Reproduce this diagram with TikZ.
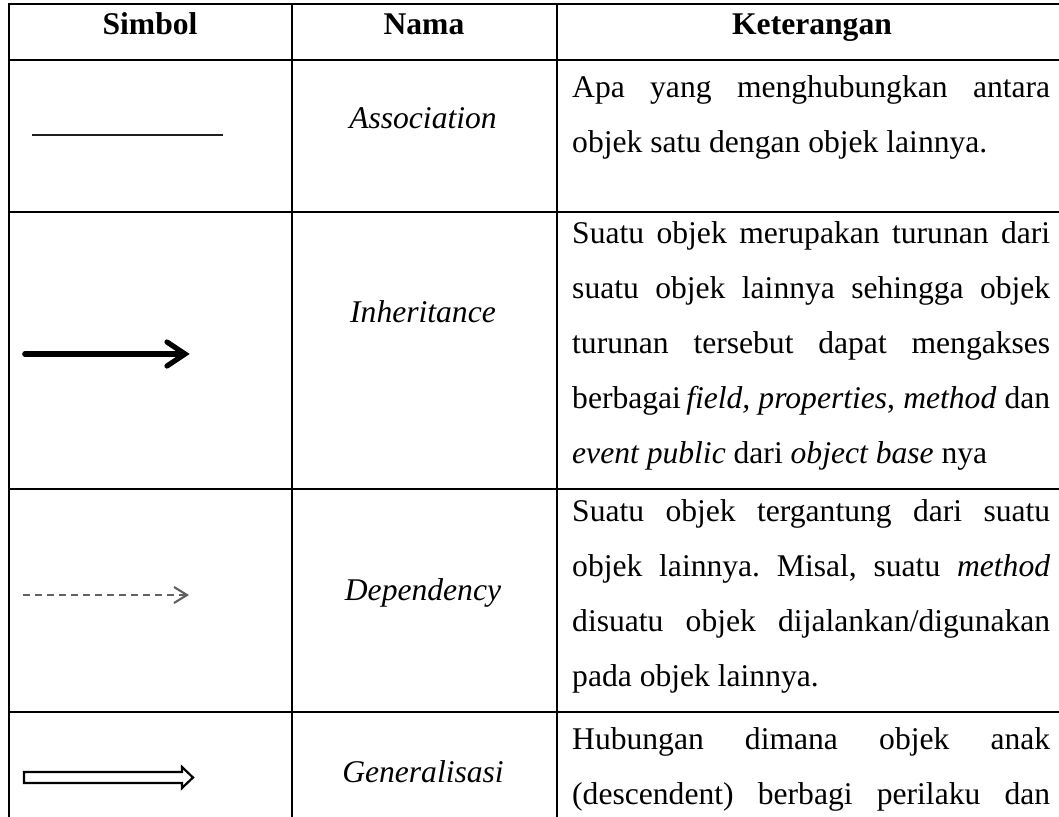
\documentclass[tikz,border=0pt]{standalone}
\usepackage{fontspec}
\setmainfont{Liberation Serif}
\newcommand\jline[1]{\makebox[478pt][s]{#1}}
\newcommand\ketsetup{\spaceskip=0pt\relax\xspaceskip=0pt\relax\frenchspacing}
\frenchspacing
\begin{document}
\begin{tikzpicture}[x=1pt,y=-1pt,
  grid/.style={line width=2.7pt,black},
  hdr/.style={anchor=base,inner sep=0pt,font=\fontsize{31.6}{55}\selectfont\bfseries},
  nama/.style={anchor=base,inner sep=0pt,font=\fontsize{31.6}{55}\selectfont\itshape},
  ket/.style={anchor=base west,inner sep=0pt,text width=478pt,font=\fontsize{31.6}{55}\selectfont},
  depcol/.style={color=black!62}
]
\useasboundingbox (0,0) rectangle (1059,816);
\clip (0,0) rectangle (1059,816);
\fill[white] (0,0) rectangle (1059,816);
% table grid
\draw[grid] (1080,4) -- (9,4) -- (9,840);
\draw[grid] (292,4) -- (292,840);
\draw[grid] (557,4) -- (557,840);
\foreach \yy in {60,212,489,712} \draw[grid] (9,\yy) -- (1080,\yy);
% header
\node[hdr] (hs) at (150,35) {Simbol};
\node[hdr] (hn) at (424,35) {Nama};
\node[hdr] (hk) at (812,35) {Keterangan};
% names
\node[nama] (n1) at (423,128) {Association};
\node[nama] (n2) at (423,322) {Inheritance};
\node[nama] (n3) at (423,600) {Dependency};
\node[nama] (n4) at (423,782) {Generalisasi};
% descriptions
\node[ket] (k1) at (572,97) {\ketsetup\jline{Apa yang menghubungkan antara}\\objek satu dengan objek lainnya.};
\node[ket] (k2) at (572,243) {\ketsetup\jline{Suatu objek merupakan turunan dari}\\
  \jline{suatu objek lainnya sehingga objek}\\
  \jline{turunan tersebut dapat mengakses}\\
  \jline{berbagai\,\textit{field, properties}, \textit{method} dan}\\
  \textit{event public} dari \textit{object base} nya};
\node[ket] (k3) at (572,521) {\ketsetup\jline{Suatu objek tergantung dari suatu}\\
  \jline{objek lainnya. Misal, suatu \textit{method}}\\
  \jline{disuatu objek dijalankan/digunakan}\\
  pada objek lainnya.};
\node[ket] (k4) at (572,749) {\ketsetup\jline{Hubungan dimana objek anak}\\
  \jline{(descendent) berbagi perilaku dan}};
% symbols
\coordinate (as1) at (32,135);
\coordinate (as2) at (223,135);
\draw[line width=2.8pt,black!88] (as1) -- (as2);
\coordinate (in1) at (25,354);
\coordinate (in2) at (184,354);
\draw[line width=5.6pt,line cap=round] (in1) -- (in2);
\draw[line width=5.2pt,line cap=round,line join=miter] (167,342) -- (185,354) -- (167,366);
\coordinate (de1) at (23,595);
\coordinate (de2) at (186,595);
\draw[depcol,line width=2.1pt,dash pattern=on 7pt off 5pt] (de1) -- (de2);
\draw[depcol,line width=2.1pt,line join=miter] (174,587) -- (187,595) -- (174,603);
\draw[line width=2.2pt,line join=miter] (24,772) -- (182,772) -- (182,767) -- (193,777.5) -- (182,788) -- (182,783) -- (24,783) -- cycle;
\end{tikzpicture}
\end{document}
